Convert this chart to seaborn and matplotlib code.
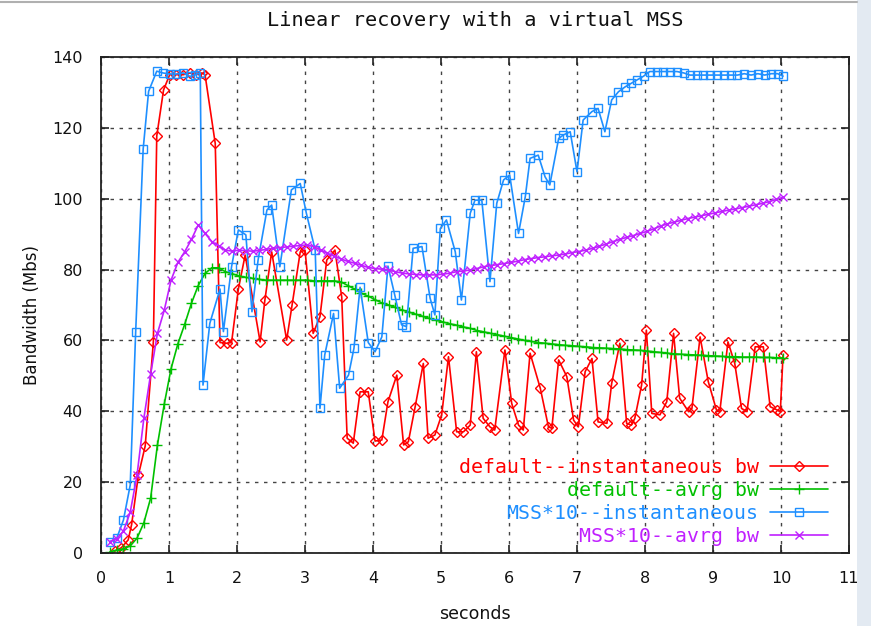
import matplotlib
matplotlib.use("Agg")
import matplotlib.pyplot as plt
import numpy as np
import seaborn as sns
from matplotlib.patches import Rectangle
from matplotlib.lines import Line2D

# ---- data -----------------------------------------------------------------
# default--instantaneous bw
red_t = [0.20, 0.30, 0.40, 0.45, 0.55, 0.65, 0.77, 0.82, 0.92, 1.01, 1.11, 1.21,
         1.31, 1.40, 1.48, 1.53, 1.68, 1.75, 1.85, 1.92, 2.02, 2.12, 2.34, 2.41,
         2.51, 2.73, 2.81, 2.93, 3.00, 3.12, 3.22, 3.32, 3.44, 3.54, 3.62, 3.71,
         3.81, 3.93, 4.03, 4.13, 4.22, 4.35, 4.45, 4.52, 4.62, 4.74, 4.81, 4.91,
         5.01, 5.11, 5.23, 5.33, 5.43, 5.52, 5.62, 5.72, 5.79, 5.94, 6.04, 6.14,
         6.21, 6.31, 6.46, 6.58, 6.63, 6.73, 6.85, 6.95, 7.02, 7.12, 7.22, 7.31,
         7.44, 7.51, 7.63, 7.73, 7.80, 7.85, 7.95, 8.02, 8.10, 8.22, 8.32, 8.42,
         8.51, 8.64, 8.69, 8.81, 8.93, 9.05, 9.10, 9.22, 9.32, 9.42, 9.50, 9.62,
         9.74, 9.84, 9.94, 9.99, 10.03]
red_v = [0.5, 1.5, 3.7, 8.0, 22.0, 30.2, 59.6, 117.7, 130.7, 135.0, 135.0, 135.0,
         135.5, 135.0, 135.5, 135.0, 115.6, 59.4, 59.2, 59.4, 74.5, 84.1, 59.6, 71.4,
         85.0, 60.1, 70.0, 85.0, 85.5, 62.0, 66.7, 82.7, 85.5, 72.3, 32.4, 31.0,
         45.5, 45.5, 31.6, 31.9, 42.7, 50.2, 30.5, 31.4, 41.3, 53.5, 32.4, 33.3,
         39.0, 55.4, 34.2, 34.2, 36.1, 56.8, 38.0, 35.6, 34.7, 57.3, 42.2, 36.1,
         34.7, 56.4, 46.5, 35.6, 35.2, 54.5, 49.8, 37.5, 35.6, 51.2, 54.9, 37.0,
         36.6, 47.9, 59.2, 36.6, 36.1, 38.0, 47.4, 62.9, 39.4, 39.0, 42.7, 62.0,
         43.7, 39.9, 40.8, 61.0, 48.4, 40.4, 39.9, 59.6, 53.5, 40.8, 39.9, 58.2,
         58.2, 41.3, 40.4, 39.9, 55.9]

# MSS*10--instantaneous
blue_t = [0.13, 0.23, 0.33, 0.43, 0.51, 0.62, 0.70, 0.82, 0.91, 1.01, 1.11, 1.21,
          1.31, 1.38, 1.46, 1.50, 1.60, 1.75, 1.80, 1.92, 2.02, 2.13, 2.22, 2.31,
          2.44, 2.51, 2.63, 2.80, 2.93, 3.02, 3.15, 3.22, 3.29, 3.42, 3.51, 3.64,
          3.72, 3.81, 3.93, 4.03, 4.13, 4.22, 4.32, 4.42, 4.49, 4.59, 4.72, 4.84,
          4.91, 4.99, 5.08, 5.21, 5.30, 5.43, 5.50, 5.60, 5.72, 5.82, 5.92, 6.01,
          6.14, 6.24, 6.31, 6.43, 6.53, 6.60, 6.73, 6.80, 6.90, 7.00, 7.09, 7.22,
          7.31, 7.41, 7.51, 7.61, 7.71, 7.80, 7.88, 7.98, 8.07, 8.17, 8.27, 8.37,
          8.47, 8.57, 8.66, 8.76, 8.86, 8.96, 9.06, 9.16, 9.26, 9.36, 9.46, 9.56,
          9.66, 9.76, 9.86, 9.95, 10.03]
blue_v = [3.2, 4.1, 9.3, 19.2, 62.5, 114.0, 130.3, 136.0, 135.5, 135.2, 135.2, 135.5,
          134.5, 135.0, 135.5, 47.4, 64.8, 74.5, 62.5, 80.8, 91.2, 89.8, 68.1, 82.7,
          96.8, 98.2, 80.8, 102.5, 104.3, 95.9, 85.5, 40.8, 55.9, 67.6, 46.5, 50.2,
          57.8, 75.0, 59.4, 56.8, 61.0, 81.0, 72.8, 64.4, 63.9, 86.0, 86.5, 71.9,
          67.2, 91.6, 94.0, 85.0, 71.4, 95.9, 99.6, 99.6, 76.6, 98.7, 105.3, 106.7,
          90.2, 100.6, 111.4, 112.3, 106.2, 103.9, 117.0, 118.0, 118.9, 107.6, 122.2, 124.6,
          125.5, 118.9, 127.9, 130.2, 131.6, 132.6, 133.5, 134.6, 135.9, 135.9, 135.9, 135.9,
          135.9, 135.5, 134.9, 134.9, 134.9, 134.9, 134.9, 134.9, 134.9, 134.9, 135.3, 134.9,
          135.3, 134.9, 135.3, 135.3, 134.6]

# averaged series are sampled every 0.1 s
avg_t = np.round(np.arange(0.13, 10.04, 0.1), 2)

# default--avrg bw
green_v = [0.3, 0.8, 1.2, 2.0, 4.2, 8.5, 15.5, 30.5, 42.0, 52.0,
           59.0, 64.5, 70.5, 75.5, 78.9, 80.5, 80.5, 79.4, 78.8, 78.2,
           77.8, 77.5, 77.2, 77.0, 77.0, 77.0, 77.0, 77.0, 77.0, 77.0,
           76.8, 76.8, 76.8, 76.8, 76.5, 75.5, 74.5, 73.3, 72.5, 71.5,
           70.6, 70.0, 69.3, 68.6, 68.0, 67.4, 66.8, 66.2, 65.7, 65.2,
           64.7, 64.3, 63.8, 63.4, 62.8, 62.4, 62.0, 61.6, 61.2, 60.8,
           60.4, 60.0, 59.7, 59.4, 59.2, 59.0, 58.8, 58.6, 58.5, 58.3,
           58.2, 58.0, 57.9, 57.8, 57.7, 57.6, 57.4, 57.3, 57.2, 57.0,
           56.8, 56.6, 56.4, 56.2, 56.1, 56.0, 55.9, 55.8, 55.7, 55.6,
           55.5, 55.4, 55.4, 55.3, 55.3, 55.3, 55.2, 55.2, 55.1, 55.1]

# MSS*10--avrg bw
purple_v = [3.2, 4.0, 6.2, 11.5, 22.0, 38.0, 50.5, 62.0, 68.5, 77.0,
            82.0, 85.0, 88.5, 92.6, 90.2, 87.9, 86.7, 85.5, 85.2, 85.5,
            85.3, 85.2, 85.4, 85.7, 86.0, 86.2, 86.4, 86.6, 86.8, 86.9,
            86.5, 85.5, 84.6, 83.8, 83.0, 82.3, 81.8, 81.2, 80.6, 80.3,
            80.1, 79.9, 79.4, 79.0, 78.8, 78.6, 78.5, 78.5, 78.5, 78.7,
            79.0, 79.4, 79.6, 79.9, 80.3, 80.8, 81.1, 81.4, 81.7, 82.0,
            82.4, 82.8, 83.1, 83.4, 83.6, 83.9, 84.1, 84.4, 84.8, 85.1,
            85.5, 86.0, 86.6, 87.2, 87.9, 88.5, 89.1, 89.6, 90.2, 90.8,
            91.5, 92.3, 92.9, 93.4, 93.9, 94.4, 94.8, 95.2, 95.6, 96.0,
            96.4, 96.8, 97.1, 97.5, 97.9, 98.3, 98.7, 99.2, 99.8, 100.4]

x_ticks = list(range(0, 12))
y_ticks = list(range(0, 141, 20))

labels = ["default--instantaneous bw", "default--avrg bw",
          "MSS*10--instantaneous", "MSS*10--avrg bw"]
colors = ["#ff0000", "#00c000", "#1e8fff", "#c020ff"]

# ---- figure ---------------------------------------------------------------
sns.set_theme(style="white")
plt.rcParams["font.family"] = ["DejaVu Sans"]

fig = plt.figure(figsize=(8.71, 6.26), dpi=100)
fig.patch.set_facecolor("white")
# window frame strip on the right and top edge
fig.patches.append(Rectangle((857 / 871, 0), 14 / 871, 1, transform=fig.transFigure,
                             facecolor="#e3eaf2", edgecolor="none", zorder=0))
fig.add_artist(Line2D([0, 857 / 871], [1 - 2 / 626, 1 - 2 / 626], transform=fig.transFigure,
                      color="#b0b0b0", lw=1.5))

ax = fig.add_axes([101 / 871, 1 - 553 / 626, 748 / 871, 496 / 626])
ax.set_facecolor("white")

common = dict(ax=ax, estimator=None, sort=False, linewidth=1.2, markeredgewidth=1.0)
sns.lineplot(x=red_t, y=red_v, color=colors[0], marker="D", markersize=5.2,
             markerfacecolor="none", markeredgecolor=colors[0], label=labels[0], **common)
sns.lineplot(x=avg_t, y=green_v, color=colors[1], marker="+", markersize=7.5,
             markeredgecolor=colors[1], label=labels[1], **common)
sns.lineplot(x=blue_t, y=blue_v, color=colors[2], marker="s", markersize=5.8,
             markerfacecolor="none", markeredgecolor=colors[2], label=labels[2], **common)
sns.lineplot(x=avg_t, y=purple_v, color=colors[3], marker="x", markersize=5.5,
             markeredgecolor=colors[3], label=labels[3], **common)

ax.set_xlim(0, 11)
ax.set_ylim(0, 140)
ax.set_xticks(x_ticks)
ax.set_yticks(y_ticks)
ax.set_xticklabels([str(v) for v in x_ticks])
ax.set_yticklabels([str(v) for v in y_ticks])
ax.set_xlabel("")
ax.set_ylabel("")

ax.grid(True, color="#444444", linestyle=(0, (2.5, 4)), linewidth=1.0)
ax.set_axisbelow(True)
for s in ax.spines.values():
    s.set_visible(True)
    s.set_color("#222222")
    s.set_linewidth(1.3)
ax.tick_params(axis="both", which="major", direction="in", length=6, width=1.2,
               color="#222222", top=True, right=True, bottom=True, left=True,
               labelsize=11.5, labelcolor="#111111")
ax.tick_params(axis="x", pad=13)
ax.tick_params(axis="y", pad=13)

leg = ax.legend(loc="lower right", bbox_to_anchor=(0.972, 0.014), frameon=False,
                markerfirst=False, handlelength=2.9, handletextpad=0.6,
                labelspacing=0.2, borderpad=0, borderaxespad=0,
                prop={"family": "DejaVu Sans Mono", "size": 14.3},
                labelcolor="linecolor")

fig.text(475 / 871, 1 - 20 / 626, "Linear recovery with a virtual MSS",
         ha="center", va="center", family="DejaVu Sans Mono", fontsize=14.6, color="#111111")
fig.text(475 / 871, 1 - 614 / 626, "seconds", ha="center", va="center",
         fontsize=12.5, color="#111111")
fig.text(32 / 871, 1 - 315 / 626, "Bandwidth (Mbs)", ha="center", va="center",
         rotation=90, fontsize=12, color="#111111")

fig.savefig("out.png", dpi=100, facecolor=fig.get_facecolor())
